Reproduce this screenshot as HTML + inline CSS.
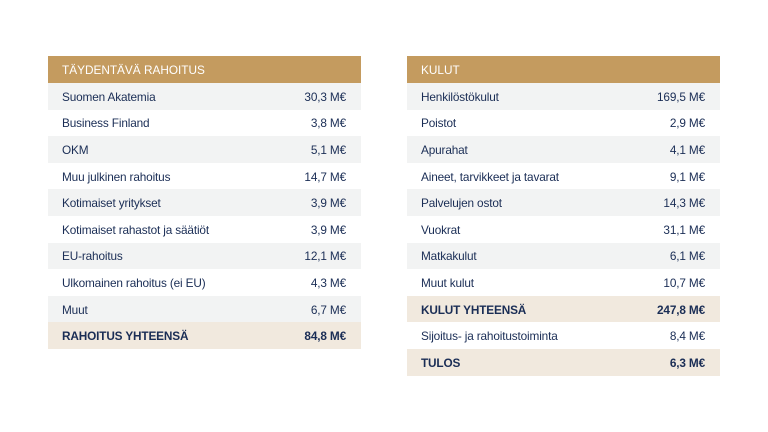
<!DOCTYPE html>
<html><head><meta charset="utf-8"><style>
*{margin:0;padding:0;box-sizing:border-box}
html,body{width:768px;height:432px;background:#fff;overflow:hidden}
body{position:relative;font-family:"Liberation Sans",sans-serif;color:#1a2d55}
.t{position:absolute;width:313px}
.r{height:26.6px;display:flex;justify-content:space-between;align-items:center;padding:1px 15px 0 14px;font-size:11.8px;letter-spacing:-0.15px}
.h{height:27px;background:#c49b5f;color:#fff;font-size:11.8px;display:flex;align-items:center;padding:1px 0 0 14px}
.g{background:#f2f3f3}
.w{background:#fff}
.b{background:#f1e9de;font-weight:bold}
</style></head><body>
<div class="t" style="left:48px;top:56px">
<div class="h">TÄYDENTÄVÄ RAHOITUS</div>
<div class="r g"><span>Suomen Akatemia</span><span>30,3 M€</span></div>
<div class="r w"><span>Business Finland</span><span>3,8 M€</span></div>
<div class="r g"><span>OKM</span><span>5,1 M€</span></div>
<div class="r w"><span>Muu julkinen rahoitus</span><span>14,7 M€</span></div>
<div class="r g"><span>Kotimaiset yritykset</span><span>3,9 M€</span></div>
<div class="r w"><span>Kotimaiset rahastot ja säätiöt</span><span>3,9 M€</span></div>
<div class="r g"><span>EU-rahoitus</span><span>12,1 M€</span></div>
<div class="r w"><span>Ulkomainen rahoitus (ei EU)</span><span>4,3 M€</span></div>
<div class="r g"><span>Muut</span><span>6,7 M€</span></div>
<div class="r b"><span>RAHOITUS YHTEENSÄ</span><span>84,8 M€</span></div>
</div>
<div class="t" style="left:407px;top:56px">
<div class="h">KULUT</div>
<div class="r g"><span>Henkilöstökulut</span><span>169,5 M€</span></div>
<div class="r w"><span>Poistot</span><span>2,9 M€</span></div>
<div class="r g"><span>Apurahat</span><span>4,1 M€</span></div>
<div class="r w"><span>Aineet, tarvikkeet ja tavarat</span><span>9,1 M€</span></div>
<div class="r g"><span>Palvelujen ostot</span><span>14,3 M€</span></div>
<div class="r w"><span>Vuokrat</span><span>31,1 M€</span></div>
<div class="r g"><span>Matkakulut</span><span>6,1 M€</span></div>
<div class="r w"><span>Muut kulut</span><span>10,7 M€</span></div>
<div class="r b"><span>KULUT YHTEENSÄ</span><span>247,8 M€</span></div>
<div class="r w"><span>Sijoitus- ja rahoitustoiminta</span><span>8,4 M€</span></div>
<div class="r b"><span>TULOS</span><span>6,3 M€</span></div>
</div>
</body></html>
